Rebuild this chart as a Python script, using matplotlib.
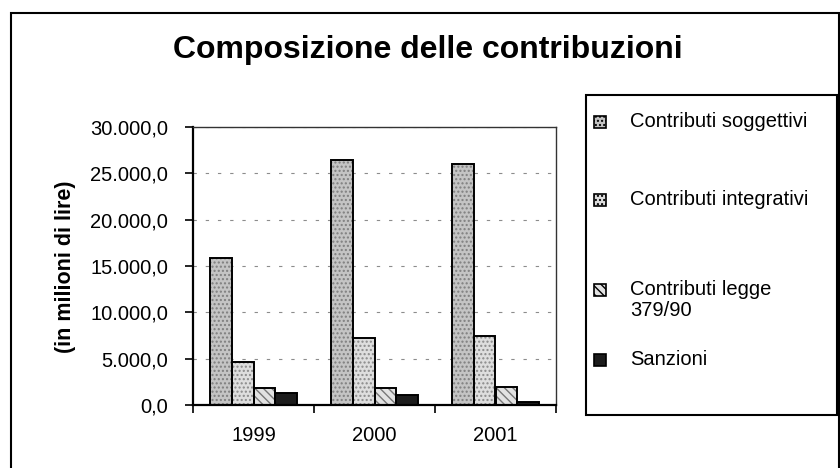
import numpy as np
import matplotlib
matplotlib.use("Agg")
import matplotlib.pyplot as plt
from matplotlib.patches import Rectangle
from matplotlib.ticker import FuncFormatter, FixedLocator

plt.rcParams['font.family'] = ['Liberation Sans', 'DejaVu Sans']

# data (in milioni di lire)
years = ['1999', '2000', '2001']
series = ['Contributi soggettivi', 'Contributi integrativi',
          'Contributi legge\n379/90', 'Sanzioni']
soggettivi = [15900, 26400, 26000]
integrativi = [4600, 7200, 7400]
legge = [1800, 1800, 1950]
sanzioni = [1300, 1100, 300]
values = [soggettivi, integrativi, legge, sanzioni]

# fill, hatch, hatch colour per series
styles = [('#c4c4c4', '....', '#7f7f7f'),
          ('#dedede', '....', '#8a8a8a'),
          ('#e2e2e2', '\\\\\\\\', '#777777'),
          ('#1c1c1c', '', '#1c1c1c')]

W, H = 840, 468
fig = plt.figure(figsize=(W / 100, H / 100), dpi=100)

def fx(px):
    return px / W

def fy(py):
    return 1 - py / H

# outer frame
fig.patches.append(Rectangle((fx(11), fy(470)), fx(828), fy(13) - fy(470),
                             transform=fig.transFigure, fill=False,
                             edgecolor='black', lw=1.5))

ax = fig.add_axes([fx(193), fy(405), fx(556) - fx(193), fy(127) - fy(405)])

x = np.arange(len(years))
bw = 0.18
offsets = (np.arange(4) - 1.5) * bw
for i, vals in enumerate(values):
    fc, hatch, hc = styles[i]
    ax.bar(x + offsets[i], vals, bw, color=fc, hatch=hatch, edgecolor=hc,
           linewidth=0, zorder=2)
    ax.bar(x + offsets[i], vals, bw, fill=False, edgecolor='black',
           linewidth=1.4, zorder=3)

ax.set_xlim(-0.5, 2.5)
ax.set_ylim(0, 30000)
ax.set_yticks(np.arange(0, 30001, 5000))

def it_fmt(v, pos):
    s = f"{v:,.1f}"
    return s.replace(',', 'X').replace('.', ',').replace('X', '.')

ax.yaxis.set_major_formatter(FuncFormatter(it_fmt))
ax.set_xticks(x)
ax.set_xticklabels(years)
ax.xaxis.set_minor_locator(FixedLocator([-0.5, 0.5, 1.5, 2.5]))
ax.tick_params(axis='x', which='major', length=0, pad=15, labelsize=14.5)
ax.tick_params(axis='x', which='minor', length=6, width=1.2, direction='out')
ax.tick_params(axis='y', length=6, width=1.2, pad=12, labelsize=14.5)

ax.grid(axis='y', color='#8c8c8c', linestyle=(0, (3, 8)), linewidth=0.8,
        zorder=0)
ax.set_axisbelow(True)
for side in ['left', 'bottom']:
    ax.spines[side].set_linewidth(1.6)
for side in ['top', 'right']:
    ax.spines[side].set_linewidth(1.0)
    ax.spines[side].set_color('#333333')

fig.text(fx(65), fy(267), '(in milioni di lire)', rotation=90, fontsize=15.5,
         fontweight='bold', ha='center', va='center')
fig.text(fx(428), fy(50), 'Composizione delle contribuzioni', fontsize=23,
         fontweight='bold', ha='center', va='center')

# legend box, entries placed like the original
fig.patches.append(Rectangle((fx(586), fy(415)), fx(837) - fx(586),
                             fy(95) - fy(415), transform=fig.transFigure,
                             fill=False, edgecolor='black', lw=1.5))
entry_y = [122, 200, 290, 360]
for (fc, hatch, hc), label, py in zip(styles, series, entry_y):
    fig.patches.append(Rectangle((fx(594), fy(py + 6)), fx(12), fy(0) - fy(12),
                                 transform=fig.transFigure, facecolor=fc,
                                 hatch=hatch, edgecolor='black', lw=1.2))
    fig.text(fx(630), fy(py - 10), label, fontsize=14.5, ha='left', va='top',
             linespacing=1.1)

fig.savefig('out.png', dpi=100)
